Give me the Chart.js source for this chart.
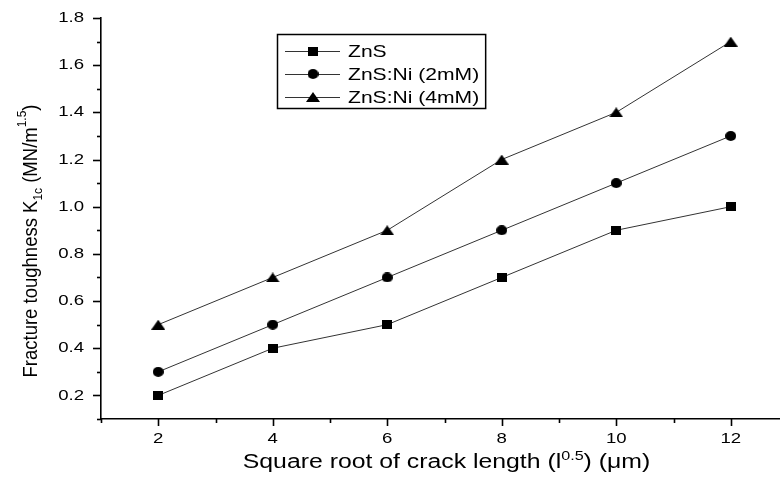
<!DOCTYPE html>
<html>
<head>
<meta charset="utf-8">
<script src="https://cdn.jsdelivr.net/npm/chart.js@4.4.1/dist/chart.umd.min.js"></script>
<style>
  html, body { margin: 0; padding: 0; overflow: hidden; background: #fff; }
  #wrap { width: 800px; height: 479px; }
</style>
</head>
<body>
<div id="wrap"><canvas id="grafico" width="800" height="479"></canvas></div>
<script>
// dados
const raizTrinca = [2, 4, 6, 8, 10, 12];
const znsPuro = [0.2, 0.4, 0.5, 0.7, 0.9, 1.0];
const znsNi2 = [0.3, 0.5, 0.7, 0.9, 1.1, 1.3];
const znsNi4 = [0.5, 0.7, 0.9, 1.2, 1.4, 1.7];
const nomesSeries = ["ZnS", "ZnS:Ni (2mM)", "ZnS:Ni (4mM)"];
const ticksX = [2, 4, 6, 8, 10, 12];
const ticksY = [0.2, 0.4, 0.6, 0.8, 1.0, 1.2, 1.4, 1.6, 1.8];

const FONTE = "'Liberation Sans', Arial, sans-serif";
const ESTICA = 1.24; // textos um pouco mais largos

// marcadores desenhados num canvas pequeno
function marcador(tipo) {
  const c = document.createElement("canvas");
  const tam = { quad: [10, 9], circ: [11, 10], tri: [14, 10] }[tipo];
  c.width = tam[0];
  c.height = tam[1];
  const g = c.getContext("2d");
  g.fillStyle = "#000";
  g.beginPath();
  if (tipo === "quad") {
    g.rect(0, 0, tam[0], tam[1]);
  } else if (tipo === "circ") {
    g.ellipse(tam[0] / 2, tam[1] / 2, tam[0] / 2, tam[1] / 2, 0, 0, Math.PI * 2);
  } else {
    g.moveTo(tam[0] / 2, 0);
    g.lineTo(tam[0], tam[1]);
    g.lineTo(0, tam[1]);
    g.closePath();
  }
  g.fill();
  return c;
}
const marcadores = [marcador("quad"), marcador("circ"), marcador("tri")];

function pontos(valores) {
  return valores.map((v, i) => ({ x: raizTrinca[i], y: v }));
}

// escreve um texto em partes (subscrito / sobrescrito), esticado na horizontal
function textoPartes(ctx, partes, x, y, esticaX, esticaY, alinhamento) {
  ctx.save();
  ctx.translate(x, y);
  ctx.scale(esticaX, esticaY);
  const largura = larguraPartes(ctx, partes);
  let cx = alinhamento === "center" ? -largura / 2 : (alinhamento === "right" ? -largura : 0);
  ctx.textAlign = "left";
  partes.forEach(p => {
    ctx.font = p.tam + "px " + FONTE;
    ctx.fillText(p.t, cx, p.dy || 0);
    cx += ctx.measureText(p.t).width;
  });
  ctx.restore();
  return largura;
}

function larguraPartes(ctx, partes) {
  let l = 0;
  partes.forEach(p => {
    ctx.font = p.tam + "px " + FONTE;
    l += ctx.measureText(p.t).width;
  });
  return l;
}

const eixosETextos = {
  id: "eixosETextos",
  afterDraw(chart) {
    const { ctx, chartArea: a, scales: { x, y } } = chart;
    ctx.save();
    ctx.strokeStyle = "#000";
    ctx.fillStyle = "#000";
    ctx.lineWidth = 1.6;

    // marcas do eixo x (maiores nos pares)
    x.ticks.forEach(t => {
      const px = Math.round(x.getPixelForValue(t.value)) + 0.5;
      const tam = t.value % 2 === 0 ? 7 : 4;
      ctx.beginPath();
      ctx.moveTo(px, a.bottom);
      ctx.lineTo(px, a.bottom + tam);
      ctx.stroke();
    });
    // marcas do eixo y
    y.ticks.forEach(t => {
      const py = Math.round(y.getPixelForValue(t.value)) + 0.5;
      const tam = Math.round(t.value * 10) % 2 === 0 ? 8 : 4;
      ctx.beginPath();
      ctx.moveTo(a.left, py);
      ctx.lineTo(a.left - tam, py);
      ctx.stroke();
    });

    ctx.textBaseline = "middle";
    ticksX.forEach(v => {
      textoPartes(ctx, [{ t: String(v), tam: 15 }], x.getPixelForValue(v), a.bottom + 20, ESTICA, 1, "center");
    });
    ticksY.forEach(v => {
      textoPartes(ctx, [{ t: v.toFixed(1), tam: 15 }], a.left - 17, y.getPixelForValue(v), ESTICA, 1, "right");
    });

    // título do eixo x
    ctx.textBaseline = "alphabetic";
    textoPartes(ctx, [
      { t: "Square root of crack length (l", tam: 20 },
      { t: "0.5", tam: 13, dy: -8 },
      { t: ") (\u03bcm)", tam: 20 }
    ], (a.left + a.right) / 2 + 2, 468, ESTICA, 1, "center");

    // título do eixo y (girado e comprimido)
    const partesY = [
      { t: "Fracture toughness K", tam: 17 },
      { t: "1c", tam: 11, dy: 4 },
      { t: " (MN/m", tam: 17 },
      { t: "1.5", tam: 11, dy: -9 },
      { t: ")", tam: 17 }
    ];
    const compY = 273 / larguraPartes(ctx, partesY);
    ctx.save();
    ctx.translate(37, 241);
    ctx.rotate(-Math.PI / 2);
    textoPartes(ctx, partesY, 0, 0, compY, ESTICA, "center");
    ctx.restore();

    // legenda
    const caixa = { x: 277, y: 34, h: 74 };
    const linhas = [51, 74, 97];
    let maior = 0;
    nomesSeries.forEach(n => {
      ctx.font = "17px " + FONTE;
      maior = Math.max(maior, ctx.measureText(n).width * ESTICA);
    });
    const larg = 71 + maior + 6;
    ctx.lineWidth = 1.5;
    ctx.strokeRect(caixa.x + 0.5, caixa.y + 0.5, larg, caixa.h);
    ctx.textBaseline = "middle";
    chart.data.datasets.forEach((ds, i) => {
      const ly = linhas[i] + 0.5;
      ctx.strokeStyle = "#333";
      ctx.lineWidth = 1;
      ctx.beginPath();
      ctx.moveTo(caixa.x + 8, ly);
      ctx.lineTo(caixa.x + 63, ly);
      ctx.stroke();
      const m = marcadores[i];
      ctx.drawImage(m, caixa.x + 36 - m.width / 2, linhas[i] - m.height / 2);
      textoPartes(ctx, [{ t: ds.label, tam: 17 }], caixa.x + 71, linhas[i] + 1, ESTICA, 1, "left");
    });
    ctx.restore();
  }
};

const series = [znsPuro, znsNi2, znsNi4];
const ctx = document.getElementById("grafico").getContext("2d");
new Chart(ctx, {
  type: "line",
  data: {
    datasets: series.map((s, i) => ({
      label: nomesSeries[i],
      data: pontos(s),
      borderColor: "#333",
      borderWidth: 1,
      pointStyle: marcadores[i],
      pointRadius: 6,
      tension: 0
    }))
  },
  options: {
    responsive: false,
    animation: false,
    layout: { padding: { top: 18, right: 12, left: 0, bottom: 0 } },
    plugins: { legend: { display: false }, tooltip: { enabled: false } },
    scales: {
      x: {
        type: "linear",
        min: 1,
        max: 13,
        ticks: { stepSize: 1, display: false },
        grid: { display: false },
        border: { color: "#000", width: 1.6 },
        afterFit(s) { s.height = 60; }
      },
      y: {
        min: 0.1,
        max: 1.8,
        ticks: { stepSize: 0.1, display: false },
        grid: { display: false },
        border: { color: "#000", width: 1.6 },
        afterFit(s) { s.width = 101; }
      }
    }
  },
  plugins: [eixosETextos]
});
</script>
</body>
</html>
